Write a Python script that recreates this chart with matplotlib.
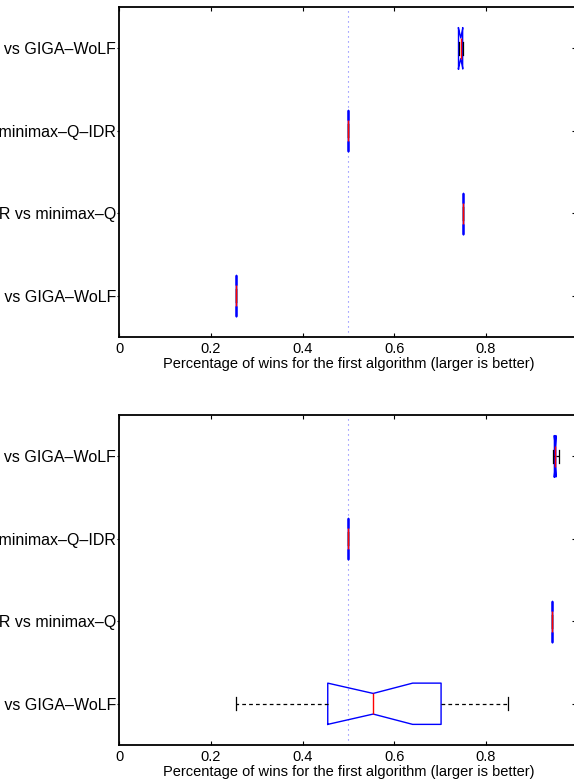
import matplotlib
matplotlib.use("Agg")
import matplotlib.pyplot as plt

plt.rcParams['font.family'] = ['Liberation Sans', 'DejaVu Sans']

# rows from bottom to top
row_labels = ['minimax–Q vs GIGA–WoLF',
              'minimax–Q–IDR vs minimax–Q',
              'GIGA–WoLF vs minimax–Q–IDR',
              'minimax–Q–IDR vs GIGA–WoLF']
row_pos = [1, 2, 3, 4]

x_ticks = [0, 0.2, 0.4, 0.6, 0.8, 1.0]
x_tick_labels = ['0', '0.2', '0.4', '0.6', '0.8', '1']
x_title = 'Percentage of wins for the first algorithm (larger is better)'

# top panel
top_med = [0.254, 0.750, 0.500, 0.745]
top_q1 = [0.254, 0.750, 0.500, 0.740]
top_q3 = [0.254, 0.750, 0.500, 0.749]
top_cilo = [0.254, 0.750, 0.500, 0.7395]
top_cihi = [0.254, 0.750, 0.500, 0.7495]
top_whislo = [0.254, 0.750, 0.500, 0.740]
top_whishi = [0.254, 0.750, 0.500, 0.749]

# bottom panel
bot_med = [0.554, 0.943, 0.500, 0.951]
bot_q1 = [0.455, 0.943, 0.500, 0.949]
bot_q3 = [0.702, 0.943, 0.500, 0.952]
bot_cilo = [0.455, 0.943, 0.500, 0.9485]
bot_cihi = [0.640, 0.943, 0.500, 0.9525]
bot_whislo = [0.254, 0.943, 0.500, 0.945]
bot_whishi = [0.848, 0.943, 0.500, 0.958]

ref_line = 0.5


def draw_panel(ax, med, q1, q3, cilo, cihi, whislo, whishi):
    stats = []
    for i in range(len(med)):
        stats.append(dict(med=med[i], q1=q1[i], q3=q3[i], cilo=cilo[i],
                          cihi=cihi[i], whislo=whislo[i], whishi=whishi[i],
                          fliers=[]))
    ax.bxp(stats, positions=row_pos, widths=0.5, capwidths=0.16,
           orientation='horizontal', shownotches=True, showfliers=False,
           manage_ticks=False,
           boxprops=dict(color='blue', linewidth=1.0),
           medianprops=dict(color='red', linewidth=1.0),
           whiskerprops=dict(color='black', linewidth=0.9,
                             linestyle=(0, (3, 2.5))),
           capprops=dict(color='black', linewidth=0.9))
    ax.axvline(ref_line, color=(0.45, 0.45, 1.0), linewidth=0.8,
               linestyle=(0, (1, 3.5)), zorder=1)

    ax.set_xlim(0, 1)
    ax.set_ylim(0.5, 4.5)
    ax.set_xticks(x_ticks)
    ax.set_xticklabels(x_tick_labels)
    ax.set_yticks(row_pos)
    ax.set_yticklabels(row_labels)
    ax.set_xlabel(x_title, fontsize=10.5, labelpad=0.5)

    for s in ax.spines.values():
        s.set_linewidth(1.3)
    ax.tick_params(axis='x', direction='in', top=True, length=3.2,
                   width=0.8, pad=3.5, labelsize=10.5)
    ax.tick_params(axis='y', direction='out', left=True, right=False,
                   length=1.8, width=0.8, pad=0.3, labelsize=11.5)

    right = ax.secondary_yaxis('right')
    right.set_yticks(row_pos)
    right.set_yticklabels([])
    right.tick_params(direction='in', length=4, width=0.8)
    right.spines['right'].set_linewidth(1.3)


fig = plt.figure(figsize=(5.74, 7.81), dpi=100)
ax1 = fig.add_axes([119 / 574, 444 / 781, 458.8 / 574, 330 / 781])
ax2 = fig.add_axes([119 / 574, 36 / 781, 458.8 / 574, 330 / 781])

draw_panel(ax1, top_med, top_q1, top_q3, top_cilo, top_cihi, top_whislo, top_whishi)
draw_panel(ax2, bot_med, bot_q1, bot_q3, bot_cilo, bot_cihi, bot_whislo, bot_whishi)

fig.savefig('out.png', dpi=100)
